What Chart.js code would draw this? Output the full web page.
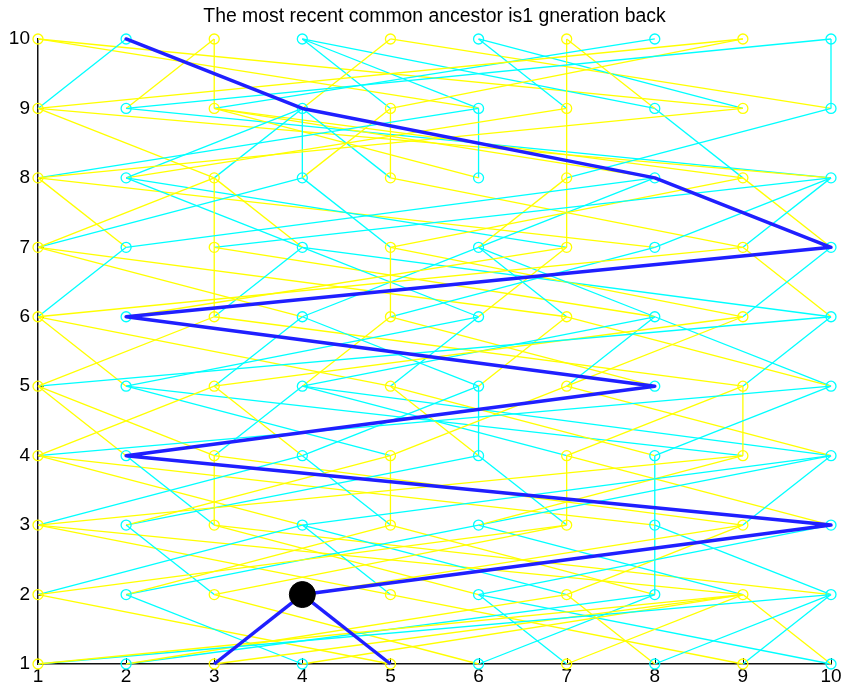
<!DOCTYPE html>
<html>
<head>
<meta charset="utf-8">
<script src="https://cdn.jsdelivr.net/npm/chart.js@4.4.1/dist/chart.umd.min.js"></script>
<style>
  html, body { margin: 0; padding: 0; background: #fff; }
  #wrap { width: 845px; height: 691px; }
</style>
</head>
<body>
<div id="wrap"><canvas id="tree" width="845" height="691"></canvas></div>
<script>
// individuals 1..10 per generation; odd = father (yellow), even = mother (cyan)
const individuals = [1, 2, 3, 4, 5, 6, 7, 8, 9, 10];
const generations = [1, 2, 3, 4, 5, 6, 7, 8, 9, 10];
const xTickLabels = ['1', '2', '3', '4', '5', '6', '7', '8', '9', '10'];
const yTickLabels = ['1', '2', '3', '4', '5', '6', '7', '8', '9', '10'];

// father of each individual, one row per generation 1..9 (father sits in the next generation)
const fathers = [
  [9, 7, 9, 9, 1, 3, 9, 7, 5, 9],
  [7, 5, 7, 9, 1, 3, 9, 5, 1, 3],
  [9, 5, 3, 1, 5, 9, 7, 1, 3, 7],
  [3, 1, 1, 3, 7, 5, 9, 5, 9, 7],
  [3, 1, 9, 5, 1, 7, 9, 5, 3, 7],
  [9, 7, 3, 1, 5, 7, 1, 3, 5, 9],
  [3, 1, 3, 3, 9, 7, 7, 1, 5, 9],
  [9, 7, 1, 5, 5, 3, 7, 3, 3, 1],
  [9, 3, 3, 5, 9, 1, 7, 7, 1, 5]
];
// mother of each individual, same layout
const mothers = [
  [10, 8, 4, 2, 4, 8, 6, 10, 10, 6],
  [4, 6, 2, 10, 4, 10, 4, 8, 6, 8],
  [4, 6, 2, 10, 4, 10, 6, 8, 10, 2],
  [10, 8, 4, 6, 2, 6, 4, 10, 2, 4],
  [10, 6, 4, 8, 6, 4, 8, 2, 10, 8],
  [2, 10, 4, 6, 8, 4, 6, 6, 10, 4],
  [4, 8, 10, 2, 4, 8, 2, 10, 10, 8],
  [6, 4, 4, 4, 4, 6, 10, 4, 8, 2],
  [2, 10, 8, 2, 4, 4, 6, 4, 6, 10]
];

// the two individuals of generation 1 sharing a parent, and that parent's maternal line
const siblings = [3, 5];
const commonAncestor = [4, 2];
const lineageX = [4, 10, 2, 8, 2, 10, 8, 4, 2];
const lineageGen = [2, 3, 4, 5, 6, 7, 8, 9, 10];

const titleText = 'The most recent common ancestor is1 gneration back';

const YELLOW = '#ffff00';
const CYAN = '#00ffff';
const BLUE = '#1f1fff';
const colorOf = i => (i % 2 === 1 ? YELLOW : CYAN);

const datasets = [];

// parent links
generations.slice(0, 9).forEach((g, gi) => {
  individuals.forEach((i, ii) => {
    [fathers[gi][ii], mothers[gi][ii]].forEach(p => {
      datasets.push({
        data: [{ x: i, y: g }, { x: p, y: g + 1 }],
        showLine: true,
        borderColor: colorOf(p),
        borderWidth: 1.3,
        pointRadius: 0,
        clip: false,
        order: 4
      });
    });
  });
});

// circles on every individual
const nodes = [];
generations.forEach(g => individuals.forEach(i => nodes.push({ x: i, y: g })));
datasets.push({
  data: nodes,
  pointRadius: 5,
  pointBorderWidth: 1.3,
  pointBorderColor: nodes.map(n => colorOf(n.x)),
  pointBackgroundColor: 'rgba(0,0,0,0)',
  clip: false,
  order: 3
});

// highlighted lineage
siblings.forEach(s => {
  datasets.push({
    data: [{ x: s, y: 1 }, { x: commonAncestor[0], y: commonAncestor[1] }],
    showLine: true, borderColor: BLUE, borderWidth: 3.5, pointRadius: 0, clip: false, order: 2
  });
});
datasets.push({
  data: lineageX.map((x, k) => ({ x, y: lineageGen[k] })),
  showLine: true, borderColor: BLUE, borderWidth: 3.5, pointRadius: 0,
  borderJoinStyle: 'round', borderCapStyle: 'round', clip: false, order: 2
});
datasets.push({
  data: [{ x: commonAncestor[0], y: commonAncestor[1] }],
  pointRadius: 13, pointBackgroundColor: '#000', pointBorderColor: '#000', clip: false, order: 1
});

// short inward ticks on the two axes
const innerTicks = {
  id: 'innerTicks',
  beforeDatasetsDraw(chart) {
    const { ctx, chartArea, scales } = chart;
    ctx.save();
    ctx.strokeStyle = '#000';
    ctx.lineWidth = 1;
    ctx.beginPath();
    individuals.forEach(v => {
      const px = Math.round(scales.x.getPixelForValue(v)) + 0.5;
      ctx.moveTo(px, chartArea.bottom);
      ctx.lineTo(px, chartArea.bottom - 6);
    });
    generations.forEach(v => {
      const py = Math.round(scales.y.getPixelForValue(v)) + 0.5;
      ctx.moveTo(chartArea.left, py);
      ctx.lineTo(chartArea.left + 6, py);
    });
    ctx.stroke();
    ctx.restore();
  }
};

const tickFont = { family: "'Liberation Sans', Arial, sans-serif", size: 19 };

new Chart(document.getElementById('tree'), {
  type: 'scatter',
  data: { datasets },
  options: {
    responsive: false,
    animation: false,
    events: [],
    layout: { padding: { left: 0, right: 13, top: 0, bottom: 0 } },
    plugins: {
      legend: { display: false },
      tooltip: { enabled: false },
      title: {
        display: true,
        text: titleText,
        fullSize: false,
        color: '#000',
        font: { family: "'Liberation Sans', Arial, sans-serif", size: 19.4, weight: 'normal' },
        padding: { top: 5, bottom: 10.7 }
      }
    },
    scales: {
      x: {
        type: 'linear', min: 1, max: 10,
        afterFit: s => { s.height = 27; },
        afterBuildTicks: s => { s.ticks = individuals.map(v => ({ value: v })); },
        ticks: { callback: (v) => xTickLabels[v - 1], color: '#000', font: tickFont, padding: 1, maxRotation: 0 },
        grid: { display: false, drawTicks: false },
        border: { display: true, color: '#111', width: 1.5 }
      },
      y: {
        type: 'linear', min: 1, max: 10,
        afterFit: s => { s.width = 38; },
        afterBuildTicks: s => { s.ticks = generations.map(v => ({ value: v })); },
        ticks: { callback: (v) => yTickLabels[v - 1], color: '#000', font: tickFont, padding: 8 },
        grid: { display: false, drawTicks: false },
        border: { display: true, color: '#111', width: 1.5 }
      }
    }
  },
  plugins: [innerTicks]
});
</script>
</body>
</html>
